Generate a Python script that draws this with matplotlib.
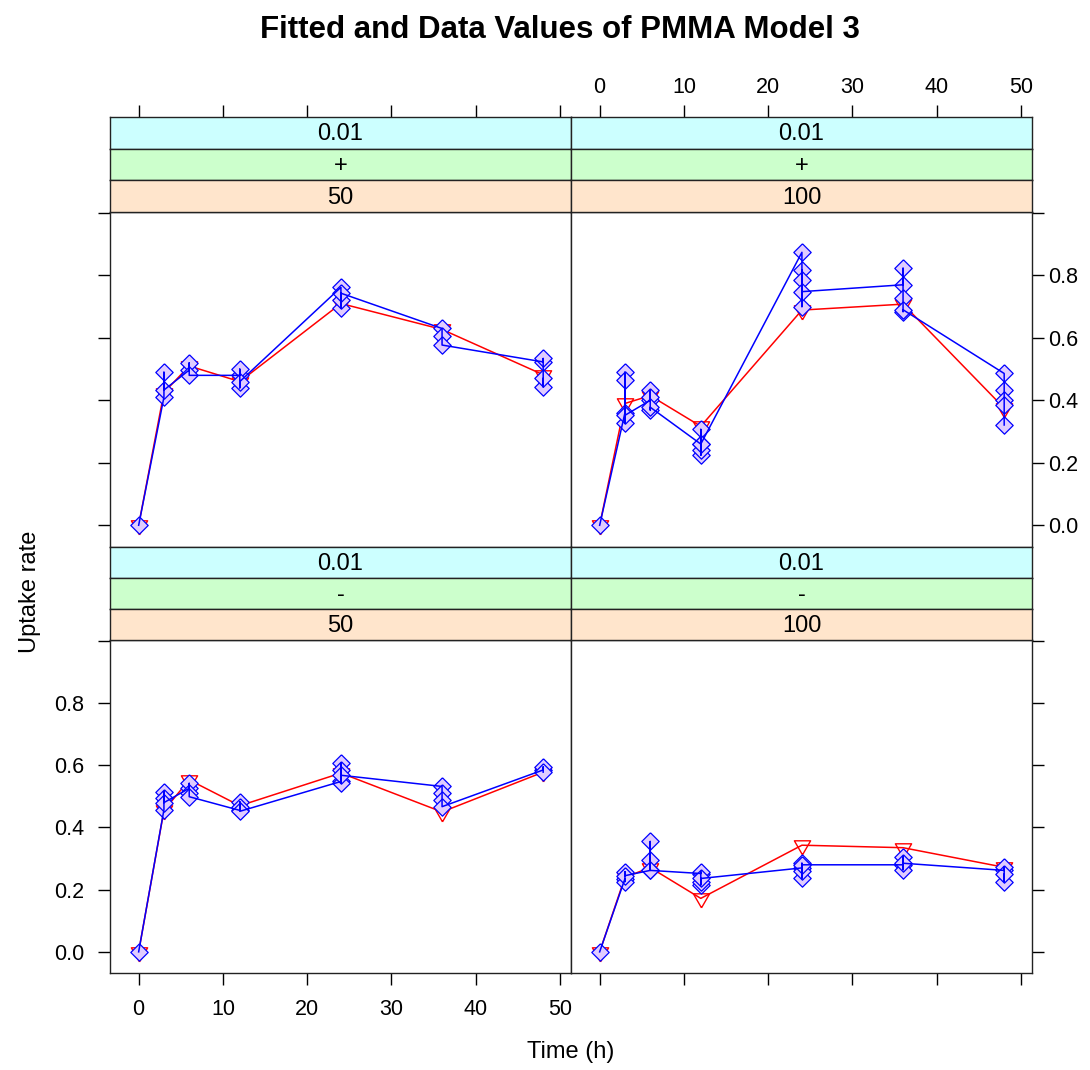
import numpy as np
import matplotlib.pyplot as plt

plt.rcParams['font.family'] = ['Liberation Sans', 'DejaVu Sans']

## Data ###################################################################################
times = [0, 3, 6, 12, 24, 36, 48]

# observed uptake rate, replicates at each time in data order
obs_p50 = [[0.0], [0.41, 0.49, 0.433], [0.497, 0.52, 0.48], [0.48, 0.50, 0.44, 0.46],
           [0.762, 0.695, 0.72, 0.743], [0.63, 0.605, 0.577], [0.523, 0.534, 0.443, 0.47]]
obs_p100 = [[0.0], [0.36, 0.49, 0.465, 0.326, 0.352], [0.40, 0.433, 0.411, 0.369, 0.378],
            [0.26, 0.307, 0.224, 0.24, 0.26], [0.874, 0.70, 0.817, 0.785, 0.748],
            [0.77, 0.823, 0.727, 0.684, 0.69], [0.486, 0.433, 0.40, 0.385, 0.321]]
obs_m50 = [[0.0], [0.457, 0.515, 0.494, 0.48], [0.526, 0.542, 0.51, 0.499],
           [0.455, 0.483, 0.467, 0.452], [0.548, 0.607, 0.585, 0.542, 0.568],
           [0.532, 0.51, 0.49, 0.467], [0.585, 0.595, 0.578]]
obs_m100 = [[0.0], [0.235, 0.226, 0.258, 0.245], [0.262, 0.355, 0.296, 0.262],
            [0.252, 0.258, 0.215, 0.226, 0.236], [0.27, 0.237, 0.285, 0.26, 0.28],
            [0.28, 0.306, 0.264, 0.285], [0.262, 0.274, 0.226, 0.25]]

# fitted values of model 3
fit_p50 = [0.0, 0.425, 0.51, 0.46, 0.71, 0.627, 0.482]
fit_p100 = [0.0, 0.39, 0.415, 0.317, 0.689, 0.708, 0.375]
fit_m50 = [0.0, 0.455, 0.553, 0.47, 0.575, 0.45, 0.578]
fit_m100 = [0.0, 0.24, 0.271, 0.172, 0.343, 0.335, 0.272]

strip_labels = [("0.01", "+", "50"), ("0.01", "+", "100"),
                ("0.01", "-", "50"), ("0.01", "-", "100")]

x_ticks = [0, 10, 20, 30, 40, 50]
y_ticks = [0.0, 0.2, 0.4, 0.6, 0.8, 1.0]
y_ticklabels = ["0.0", "0.2", "0.4", "0.6", "0.8", ""]

## Layout (pixels) ########################################################################
W, H = 1090, 1070
xlim = (-3.4, 51.3)
ylim = (-0.068, 1.003)
strip_cols = ["#ccffff", "#ccffcc", "#ffe5cc"]

cols = [(110, 571), (571, 1032)]
rows = [(117, 212, 546.5), (546.5, 640, 973)]   # strip top, panel top, panel bottom


def rect(l, t, r, b):
    return [l / W, 1 - b / H, (r - l) / W, (b - t) / H]


tri = [(0, -1), (-0.866, 0.5), (0.866, 0.5), (0, -1)]
dia = [(0, 1), (1, 0), (0, -1), (-1, 0), (0, 1)]

fig = plt.figure(figsize=(W / 100, H / 100), dpi=100)

panels = [(obs_p50, fit_p50), (obs_p100, fit_p100), (obs_m50, fit_m50), (obs_m100, fit_m100)]

for k, (obs, fit) in enumerate(panels):
    r, c = divmod(k, 2)
    l, rr = cols[c]
    st, pt, pb = rows[r]
    ax = fig.add_axes(rect(l, pt, rr, pb))

    # fitted
    ax.plot(times, fit, color='red', lw=1.1, marker=tri, ms=13.5, mfc='none', mec='red', mew=1.0)
    # data, joined in data order
    xs = [t for t, reps in zip(times, obs) for _ in reps]
    ys = [v for reps in obs for v in reps]
    ax.plot(xs, ys, ls='none', marker=dia, ms=12.5, mfc='#e0ccff', mec='blue', mew=0.9)
    ax.plot(xs, ys, color='blue', lw=1.1)

    ax.set_xlim(xlim)
    ax.set_ylim(ylim)
    ax.tick_params(direction='out', length=8.5, width=1, labelsize=15.5, pad=10)
    ax.set_yticks(y_ticks)
    ax.set_yticklabels(y_ticklabels)
    ax.set_xticks(x_ticks)
    for s in ax.spines.values():
        s.set_linewidth(1)
        s.set_color('#222222')

    if r == 0:
        ax.tick_params(axis='x', bottom=False, labelbottom=False)
    else:
        ax.tick_params(axis='x', bottom=True, labelbottom=(c == 0), pad=10)
    if c == 0:
        ax.tick_params(axis='y', left=True, right=False, labelleft=(r == 1), labelright=False)
    else:
        ax.tick_params(axis='y', left=False, right=True, labelleft=False, labelright=(r == 0),
                       pad=3)

    # strips
    sh = (pt - st) / 3
    for j, lab in enumerate(strip_labels[k]):
        sax = fig.add_axes(rect(l, st + j * sh, rr, st + (j + 1) * sh))
        sax.set_facecolor(strip_cols[j])
        sax.set_xlim(xlim)
        sax.set_yticks([])
        sax.text(0.5, 0.45, lab, transform=sax.transAxes, ha='center', va='center', fontsize=17)
        for s in sax.spines.values():
            s.set_linewidth(1)
            s.set_color('#222222')
        if r == 0 and j == 0:
            sax.set_xticks(x_ticks)
            sax.tick_params(axis='x', top=True, bottom=False, labeltop=(c == 1),
                            labelbottom=False, direction='out', length=8.5, width=1,
                            labelsize=15.5, pad=5)
        else:
            sax.set_xticks([])

fig.text(560 / W, 1 - 30 / H, "Fitted and Data Values of PMMA Model 3", ha='center', va='center',
         fontsize=22.5, fontweight='bold')
fig.text(571 / W, 1 - 1052 / H, "Time (h)", ha='center', va='center', fontsize=17)
fig.text(30 / W, 1 - 592 / H, "Uptake rate", ha='center', va='center', rotation=90, fontsize=17)

fig.savefig("out.png", dpi=100)
